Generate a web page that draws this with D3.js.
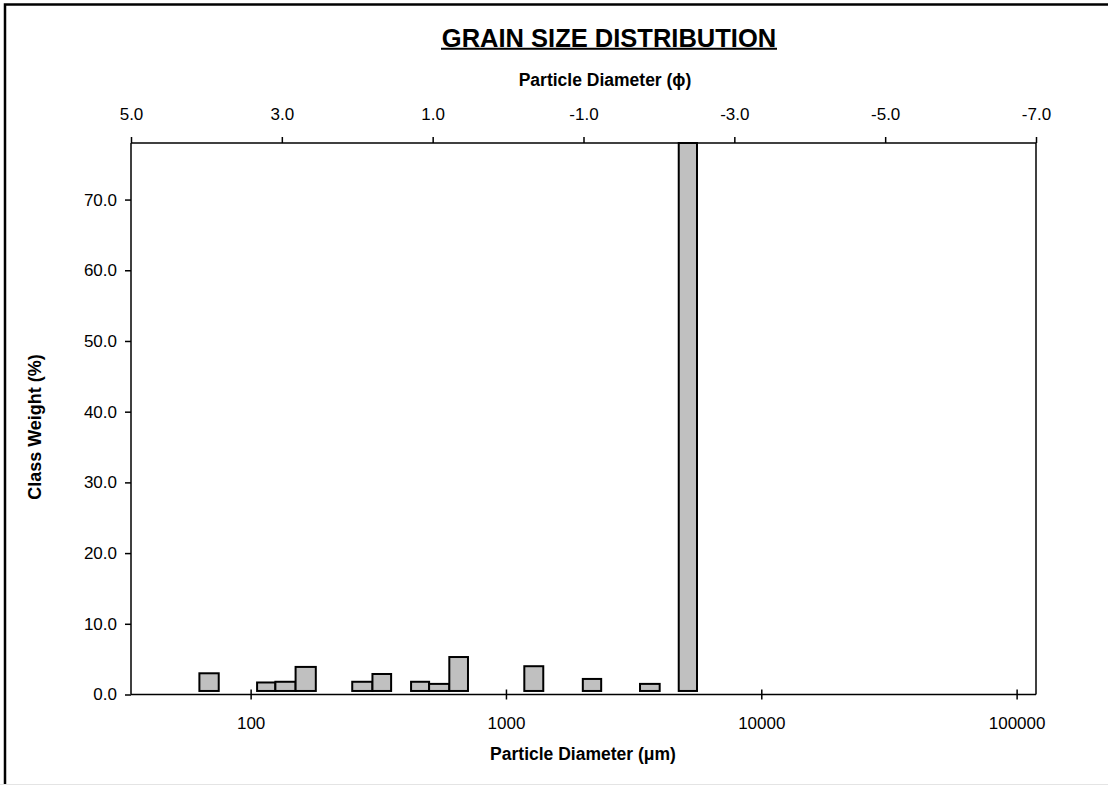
<!DOCTYPE html>
<html>
<head>
<meta charset="utf-8">
<script src="https://cdn.jsdelivr.net/npm/d3@7"></script>
<style>
  html, body { margin: 0; padding: 0; background: #ffffff; }
  svg { display: block; }
  text { font-family: "Liberation Sans", Arial, sans-serif; fill: #000; }
</style>
</head>
<body>
<svg id="chart" width="1108" height="785"></svg>
<script>
// ---- data ----
// sieve class lower / upper bounds (µm) and class weight (%)
const classLower = [63, 106, 125, 150, 250, 300, 425, 500, 600, 1180, 2000, 3350, 4750];
const classUpper = [75, 125, 150, 180, 300, 355, 500, 600, 710, 1400, 2360, 4000, 5600];
const classWeight = [3.0, 1.7, 1.8, 3.9, 1.8, 2.9, 1.8, 1.5, 5.3, 4.0, 2.2, 1.5, 78.0];
const barBase = 0.5;

const yTicks = [0, 10, 20, 30, 40, 50, 60, 70];
const xTicksUm = [100, 1000, 10000, 100000];
const xTicksPhi = [5, 3, 1, -1, -3, -5, -7];
const yMax = 78;
const umMin = 34, umMax = 119100;
const phiMin = 5, phiMax = -7;

const titleText = "GRAIN SIZE DISTRIBUTION";
const topAxisTitle = "Particle Diameter (\u03D5)";
const bottomAxisTitle = "Particle Diameter (\u03BCm)";
const yAxisTitle = "Class Weight (%)";

// ---- layout ----
const svg = d3.select("#chart");
const pL = 131, pR = 1036, pT = 143, pB = 694.5;

const x = d3.scaleLog().domain([umMin, umMax]).range([pL, pR]);
const xPhi = d3.scaleLinear().domain([phiMin, phiMax]).range([pL, pR]);
const y = d3.scaleLinear().domain([0, yMax]).range([pB, pT]);

const fmt1 = d => d.toFixed(1);

// outer frame
svg.append("line").attr("x1", 0).attr("x2", 1108).attr("y1", 784.5).attr("y2", 784.5)
  .attr("stroke", "#e4e4e4").attr("stroke-width", 1);
svg.append("path").attr("d", "M5,784 L5,4.5 L1108,4.5")
  .attr("fill", "none").attr("stroke", "#000").attr("stroke-width", 2.5);

// bars
const bars = classWeight.map((w, i) => ({ lo: classLower[i], hi: classUpper[i], w }));
svg.append("g").selectAll("rect").data(bars).join("rect")
  .attr("x", d => x(d.lo))
  .attr("width", d => x(d.hi) - x(d.lo))
  .attr("y", d => y(Math.min(d.w, yMax)))
  .attr("height", d => y(barBase) - y(Math.min(d.w, yMax)))
  .attr("fill", "#c0c0c0")
  .attr("stroke", "#000")
  .attr("stroke-width", 2);

// plot frame right side
svg.append("line").attr("x1", pR).attr("x2", pR).attr("y1", pT).attr("y2", pB)
  .attr("stroke", "#000").attr("stroke-width", 1.5);

const fontFam = "Liberation Sans, Arial, sans-serif";
const tickFs = 17;

// y axis
const yAxis = d3.axisLeft(y).tickValues(yTicks).tickFormat(fmt1).tickSize(6).tickPadding(8);
const gy = svg.append("g").attr("transform", `translate(${pL},0)`).call(yAxis);
gy.select(".domain").attr("stroke-width", 1.5).attr("d", `M0,${pB}V${pT}`);
gy.selectAll(".tick line").attr("stroke-width", 1.5);
gy.selectAll("text").attr("font-size", tickFs).attr("font-family", fontFam).attr("fill", "#000");

// bottom axis (µm, log)
const xAxis = d3.axisBottom(x).tickValues(xTicksUm).tickFormat(d => String(d)).tickSize(5).tickPadding(17);
const gx = svg.append("g").attr("transform", `translate(0,${pB})`).call(xAxis);
gx.select(".domain").attr("stroke-width", 1.5).attr("d", `M${pL},0H${pR}`);
gx.selectAll(".tick line").attr("stroke-width", 1.5).attr("y1", -5);
gx.selectAll("text").attr("font-size", tickFs).attr("font-family", fontFam).attr("fill", "#000");

// top axis (phi, linear)
const xAxisTop = d3.axisTop(xPhi).tickValues(xTicksPhi).tickFormat(fmt1).tickSize(6).tickPadding(17);
const gt = svg.append("g").attr("transform", `translate(0,${pT})`).call(xAxisTop);
gt.select(".domain").attr("stroke-width", 1.5).attr("d", `M${pL},0H${pR}`);
gt.selectAll(".tick line").attr("stroke-width", 1.5);
gt.selectAll("text").attr("font-size", tickFs).attr("font-family", fontFam).attr("fill", "#000");

// titles
svg.append("text").attr("x", 609).attr("y", 46.5).attr("text-anchor", "middle")
  .attr("font-size", 25.5).attr("font-weight", "bold").text(titleText);
svg.append("line").attr("x1", 441).attr("x2", 777).attr("y1", 48.7).attr("y2", 48.7)
  .attr("stroke", "#000").attr("stroke-width", 2);

svg.append("text").attr("x", 605).attr("y", 86).attr("text-anchor", "middle")
  .attr("font-size", 17.5).attr("font-weight", "bold").text(topAxisTitle);
svg.append("text").attr("x", 583).attr("y", 760).attr("text-anchor", "middle")
  .attr("font-size", 17.5).attr("font-weight", "bold").text(bottomAxisTitle);
svg.append("text").attr("transform", "translate(41,427) rotate(-90)").attr("text-anchor", "middle")
  .attr("font-size", 18).attr("font-weight", "bold").text(yAxisTitle);
</script>
</body>
</html>
